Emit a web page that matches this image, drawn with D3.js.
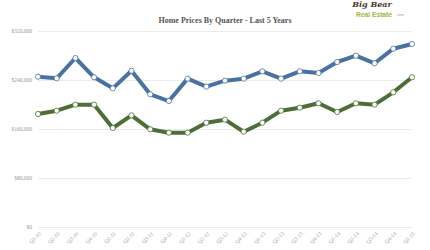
<!DOCTYPE html>
<html><head><meta charset="utf-8">
<script src="https://cdn.jsdelivr.net/npm/d3@7"></script>
<style>body{margin:0;background:#fff}svg{display:block}</style>
</head><body><svg id="c" width="430" height="250"></svg>
<script>
const quarters = ["Q1-10","Q2-10","Q3-10","Q4-10","Q1-11","Q2-11","Q3-11","Q4-11","Q1-12","Q2-12","Q3-12","Q4-12","Q1-13","Q2-13","Q3-13","Q4-13","Q1-14","Q2-14","Q3-14","Q4-14","Q1-15"];
const blueSeries = [245400,242800,275900,244400,226400,255200,216600,205700,242200,229100,238900,242200,254200,242200,254200,251400,269400,279700,267300,291100,298800];
const greenSeries = [184500,189900,199700,199700,161600,182300,159500,154000,154000,170300,175200,155600,170300,189900,194800,202000,187800,202000,199700,219900,244400];
const yTicks = [0,80000,160000,240000,320000];
const title = "Home Prices By Quarter - Last 5 Years";

const svg = d3.select("#c");
const x = d3.scalePoint().domain(quarters).range([38,412]);
const y = d3.scaleLinear().domain([0,320000]).range([227,31]);

svg.append("text").attr("x",225).attr("y",23).attr("text-anchor","middle")
  .attr("font-family","Liberation Serif, serif").attr("font-weight","bold").attr("font-size",8)
  .attr("fill","#555").text(title);

// logo
svg.append("text").attr("x",372).attr("y",7).attr("text-anchor","middle")
  .attr("font-family","DejaVu Serif, serif").attr("font-style","italic").attr("font-weight","bold").attr("font-size",8)
  .attr("fill","#4a3a2a").text("Big Bear");
svg.append("text").attr("x",356).attr("y",16.5)
  .attr("font-family","Liberation Sans, sans-serif").attr("font-weight","bold").attr("font-size",7.5)
  .attr("fill","#9ab845").attr("textLength",36).attr("lengthAdjust","spacingAndGlyphs").text("Real Estate");
svg.append("text").attr("x",396).attr("y",15.5)
  .attr("font-family","Liberation Sans, sans-serif").attr("font-size",3.5)
  .attr("fill","#999").text(".com");

// grid
const yAxis = d3.axisLeft(y).tickValues(yTicks).tickSize(-(412-38)).tickPadding(6)
  .tickFormat(d => "$" + d3.format(",")(d));
const ga = svg.append("g").attr("transform","translate(38,0)").call(yAxis);
ga.select(".domain").remove();
ga.selectAll("line").attr("stroke","#ebebeb").attr("stroke-width",1);
ga.selectAll("text").attr("font-family","Liberation Serif, serif").attr("font-size",5.5).attr("fill","#999");

// x axis labels
const xAxis = d3.axisBottom(x).tickSize(0).tickPadding(0);
const gx = svg.append("g").attr("transform","translate(0,227)").call(xAxis);
gx.select(".domain").remove();
gx.selectAll("text").attr("font-family","Liberation Serif, serif").attr("font-size",5.5).attr("fill","#999")
  .attr("text-anchor","end").attr("dy",0)
  .attr("transform","translate(3,7) rotate(-45)");

const line = d3.line().x((d,i)=>x(quarters[i])).y(d=>y(d));
const series = [{v:blueSeries,c:"#4a72a0"},{v:greenSeries,c:"#4d6e36"}];
series.forEach(s=>{
  svg.append("path").datum(s.v).attr("d",line).attr("fill","none")
    .attr("stroke",s.c).attr("stroke-width",4).attr("stroke-linejoin","round");
  svg.append("g").selectAll("circle").data(s.v).join("circle")
    .attr("cx",(d,i)=>x(quarters[i])).attr("cy",d=>y(d)).attr("r",2.6)
    .attr("fill","#fff").attr("stroke",s.c).attr("stroke-width",0.8);
});
</script></body></html>
